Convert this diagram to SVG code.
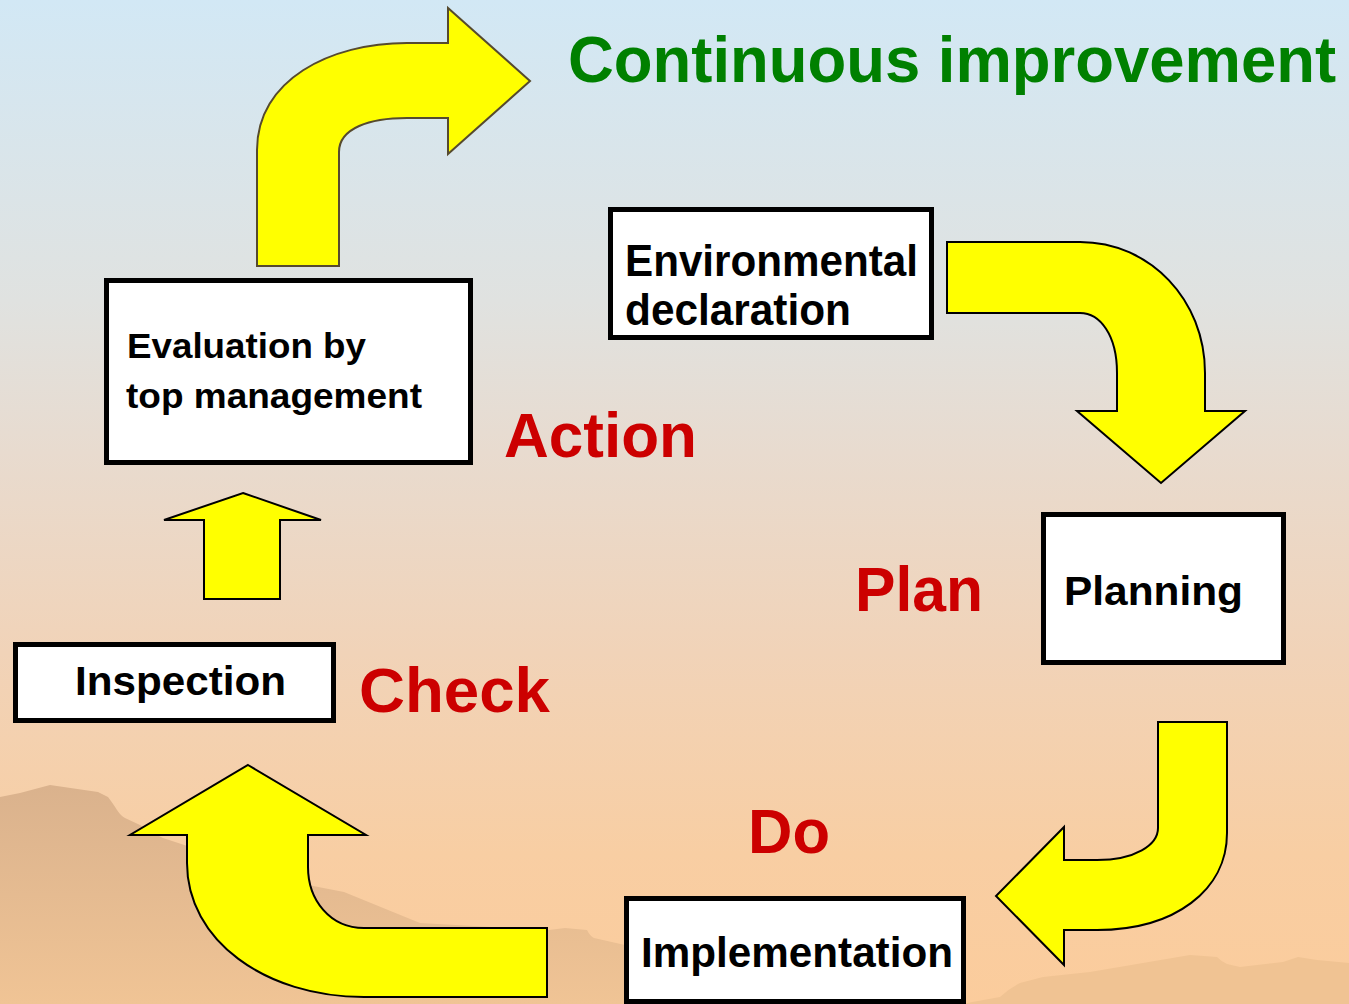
<svg xmlns="http://www.w3.org/2000/svg" width="1349" height="1004" viewBox="0 0 1349 1004">
  <defs>
    <linearGradient id="sky" x1="0" y1="0" x2="0" y2="1">
      <stop offset="0" stop-color="#d2e8f5"/>
      <stop offset="0.3" stop-color="#e0e2e0"/>
      <stop offset="0.45" stop-color="#e8dbcf"/>
      <stop offset="0.65" stop-color="#f1d3b8"/>
      <stop offset="0.85" stop-color="#f8cea3"/>
      <stop offset="1" stop-color="#fbcc9c"/>
    </linearGradient>
    <linearGradient id="mtn" x1="0" y1="785" x2="0" y2="1004" gradientUnits="userSpaceOnUse">
      <stop offset="0" stop-color="#dab28d"/>
      <stop offset="1" stop-color="#f0c495"/>
    </linearGradient>
    <style>
      .arrow { fill: #ffff00; stroke: #000000; stroke-width: 2; stroke-linejoin: miter; }
      .box { fill: #ffffff; stroke: #000000; stroke-width: 5; }
      .label { font-family: "Liberation Sans", Arial, sans-serif; font-weight: bold; fill: #000000; }
      .phase { font-family: "Liberation Sans", Arial, sans-serif; font-weight: bold; fill: #cc0000; }
      .title { font-family: "Liberation Sans", Arial, sans-serif; font-weight: bold; fill: #008000; }
    </style>
  </defs>

  <!-- background -->
  <rect x="0" y="0" width="1349" height="1004" fill="url(#sky)"/>
  <path d="M0,797 L20,793 L50,785 L98,792 L108,797 Q114,805 117,810 Q121,816 125,818 L140,825 L157,835 L163,838 L230,860 L308,885 L344,892 L393,912 L420,923 L549,930 L565,928 L587,930 Q590,936 594,938 L625,945 L700,965 L760,1004 L0,1004 Z" fill="url(#mtn)"/>
  <path d="M960,1004 L967,1003 L1000,997 Q1010,988 1020,983 L1043,977 L1090,972 L1190,955 L1217,957 Q1222,962 1227,964 L1240,967 L1283,962 L1298,957 L1317,960 L1349,963 L1349,1004 Z" fill="#f0c393"/>

  <!-- title -->
  <text class="title" x="568" y="82" font-size="64" textLength="768" lengthAdjust="spacingAndGlyphs">Continuous improvement</text>

  <!-- connectors (arrows) -->
  <g id="connectors">
    <path id="arrow-continuous" class="arrow" style="stroke:#564a2e" d="M257,266 L257,150 C257,80 330,43 407,43 L448,43 L448,8 L530,81 L448,154 L448,118 L407,118 C370,118 339,128 339,152 L339,266 Z"/>
    <path id="arrow-env-plan" class="arrow" d="M947,242 L1080,242 C1150,242 1205,300 1205,373 L1205,411 L1245,411 L1161,483 L1077,411 L1117,411 L1117,373 C1117,335 1100,313 1080,313 L947,313 Z"/>
    <path id="arrow-plan-do" class="arrow" d="M1158,722 L1227,722 L1227,833 C1227,890 1175,930 1097,930 L1064,930 L1064,965 L996,896 L1064,827 L1064,860 L1097,860 C1135,860 1158,845 1158,828 Z"/>
    <path id="arrow-do-check" class="arrow" d="M248,765 L366,835 L308,835 L308,867 C308,900 330,928 364,928 L547,928 L547,997 L364,997 C265,997 187,940 187,863 L187,835 L130,835 Z"/>
    <path id="arrow-check-act" class="arrow" d="M243,493 L321,520 L280,520 L280,599 L204,599 L204,520 L164,520 Z"/>
  </g>

  <!-- nodes -->
  <g id="node-env">
    <rect class="box" x="610.5" y="209.5" width="321" height="128"/>
    <text class="label" x="625" y="276" font-size="45" textLength="293" lengthAdjust="spacingAndGlyphs">Environmental</text>
    <text class="label" x="625" y="325" font-size="45" textLength="226" lengthAdjust="spacingAndGlyphs">declaration</text>
  </g>
  <g id="node-eval">
    <rect class="box" x="106.5" y="280.5" width="364" height="182"/>
    <text class="label" x="127" y="358" font-size="35" textLength="239" lengthAdjust="spacingAndGlyphs">Evaluation by</text>
    <text class="label" x="126" y="408" font-size="35" textLength="296" lengthAdjust="spacingAndGlyphs">top management</text>
  </g>
  <g id="node-plan">
    <rect class="box" x="1043.5" y="514.5" width="240" height="148"/>
    <text class="label" x="1064" y="605" font-size="41" textLength="179" lengthAdjust="spacingAndGlyphs">Planning</text>
  </g>
  <g id="node-inspection">
    <rect class="box" x="15.5" y="644.5" width="318" height="76"/>
    <text class="label" x="75" y="695" font-size="41" textLength="211" lengthAdjust="spacingAndGlyphs">Inspection</text>
  </g>
  <g id="node-impl">
    <rect class="box" x="626.5" y="898.5" width="337" height="103"/>
    <text class="label" x="641" y="967" font-size="42" textLength="312" lengthAdjust="spacingAndGlyphs">Implementation</text>
  </g>

  <!-- phase labels -->
  <g id="phase-labels">
    <text class="phase" x="504" y="457" font-size="63" textLength="193" lengthAdjust="spacingAndGlyphs">Action</text>
    <text class="phase" x="855" y="611" font-size="63" textLength="128" lengthAdjust="spacingAndGlyphs">Plan</text>
    <text class="phase" x="359" y="712" font-size="63" textLength="191" lengthAdjust="spacingAndGlyphs">Check</text>
    <text class="phase" x="748" y="853" font-size="63" textLength="82" lengthAdjust="spacingAndGlyphs">Do</text>
  </g>
</svg>
